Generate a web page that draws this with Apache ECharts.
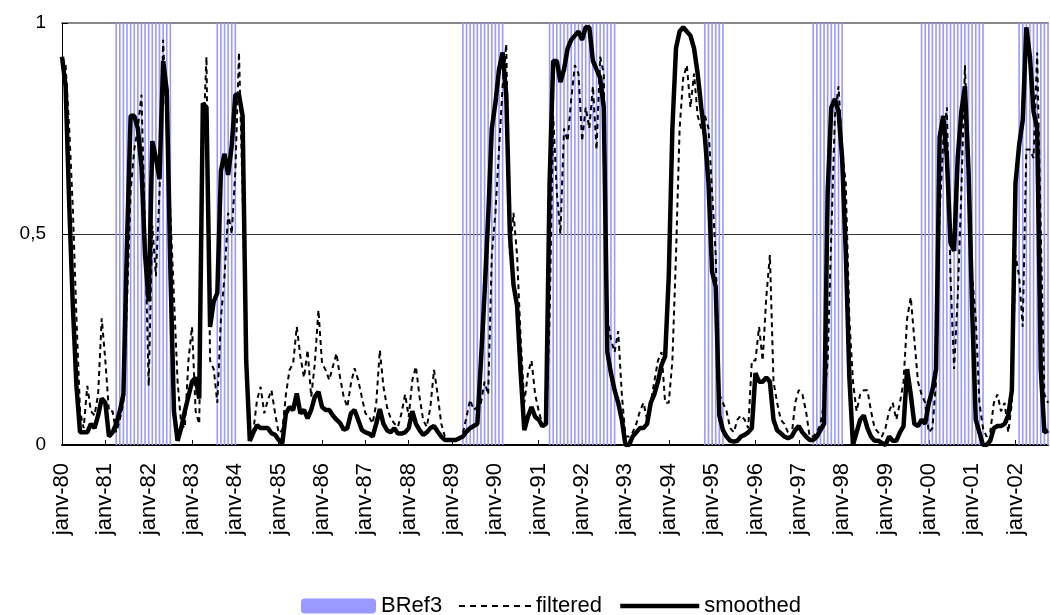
<!DOCTYPE html>
<html>
<head>
<meta charset="utf-8">
<script src="https://cdn.jsdelivr.net/npm/echarts@6/dist/echarts.min.js"></script>
<style>
html,body{margin:0;padding:0;background:#fff;}
#chart{width:1050px;height:615px;}
</style>
</head>
<body>
<div id="chart"></div>
<script>
// Month names (French) and years used to build the monthly category axis (jan 1980 .. oct 2002)
const monthNames = ['janv','févr','mars','avr','mai','juin','juil','août','sept','oct','nov','déc'];
const yearLabels = ['80','81','82','83','84','85','86','87','88','89','90','91','92','93','94','95','96','97','98','99','00','01','02'];
const monthsInLastYear = 10;

// BRef3 reference dating (1 = recession month), one row per year
const bref3 = [
  0,0,0,0,0,0,0,0,0,0,0,0,
  0,0,0,1,1,1,1,1,1,1,1,1,
  1,1,1,1,1,1,1,0,0,0,0,0,
  0,0,0,0,0,0,0,1,1,1,1,1,
  1,0,0,0,0,0,0,0,0,0,0,0,
  0,0,0,0,0,0,0,0,0,0,0,0,
  0,0,0,0,0,0,0,0,0,0,0,0,
  0,0,0,0,0,0,0,0,0,0,0,0,
  0,0,0,0,0,0,0,0,0,0,0,0,
  0,0,0,1,1,1,1,1,1,1,1,1,
  1,1,1,0,0,0,0,0,0,0,0,0,
  0,0,0,1,1,1,1,1,1,1,1,1,
  1,1,1,1,1,1,1,1,1,1,0,0,
  0,0,0,0,0,0,0,0,0,0,0,0,
  0,0,0,0,0,0,0,0,0,0,1,1,
  1,1,1,1,0,0,0,0,0,0,0,0,
  0,0,0,0,0,0,0,0,0,0,0,0,
  0,0,0,0,1,1,1,1,1,1,1,1,
  1,0,0,0,0,0,0,0,0,0,0,0,
  0,0,0,0,0,0,0,0,0,0,1,1,
  1,1,1,1,1,1,1,1,1,1,1,1,
  1,1,1,1,0,0,0,0,0,0,0,0,
  0,1,1,1,1,1,1,1,1,1
];

// "filtered" probability, one row per year
const filtered = [
  0.92,0.90,0.75,0.56,0.30,0.08,0.04,0.14,0.08,0.07,0.12,0.30,
  0.20,0.08,0.08,0.03,0.06,0.10,0.34,0.60,0.70,0.75,0.83,0.50,
  0.14,0.52,0.40,0.60,0.96,0.75,0.55,0.35,0.15,0.05,0.04,0.20,
  0.28,0.08,0.05,0.70,0.92,0.20,0.18,0.10,0.30,0.40,0.55,0.50,
  0.65,0.93,0.60,0.20,0.02,0.035,0.107,0.138,0.075,0.107,0.13,0.075,
  0.028,0.035,0.12,0.178,0.193,0.28,0.21,0.16,0.225,0.114,0.193,0.32,
  0.193,0.178,0.154,0.186,0.217,0.16,0.114,0.09,0.146,0.182,0.154,0.114,
  0.075,0.067,0.051,0.098,0.225,0.138,0.09,0.063,0.051,0.043,0.075,0.12,
  0.067,0.154,0.186,0.114,0.059,0.043,0.09,0.178,0.12,0.051,0.02,0.016,
  0.012,0.012,0.016,0.028,0.067,0.107,0.083,0.09,0.10,0.15,0.12,0.45,
  0.55,0.70,0.85,0.95,0.45,0.55,0.45,0.25,0.10,0.17,0.20,0.12,
  0.08,0.05,0.04,0.30,0.78,0.60,0.50,0.75,0.72,0.82,0.90,0.88,
  0.72,0.80,0.75,0.85,0.70,0.92,0.88,0.30,0.25,0.22,0.27,0.12,
  0.02,0.02,0.03,0.05,0.08,0.10,0.06,0.10,0.15,0.20,0.22,0.10,
  0.10,0.20,0.45,0.75,0.87,0.90,0.80,0.88,0.78,0.75,0.78,0.75,
  0.60,0.45,0.12,0.10,0.08,0.04,0.03,0.06,0.07,0.06,0.04,0.20,
  0.20,0.28,0.20,0.35,0.45,0.15,0.10,0.06,0.05,0.03,0.02,0.10,
  0.13,0.12,0.08,0.02,0.02,0.03,0.05,0.10,0.20,0.50,0.78,0.85,
  0.70,0.62,0.30,0.15,0.08,0.12,0.13,0.13,0.08,0.04,0.03,0.02,
  0.04,0.08,0.10,0.06,0.10,0.15,0.30,0.35,0.25,0.15,0.12,0.10,
  0.03,0.04,0.15,0.55,0.72,0.80,0.40,0.18,0.35,0.60,0.90,0.65,
  0.40,0.30,0.10,0.04,0.02,0.03,0.10,0.12,0.08,0.10,0.03,0.10,
  0.45,0.40,0.28,0.70,0.70,0.68,0.93,0.50,0.12,0.10
];

// "smoothed" probability, one row per year
const smoothed = [
  0.92,0.85,0.57,0.33,0.14,0.03,0.03,0.03,0.05,0.04,0.07,0.11,
  0.10,0.02,0.03,0.05,0.08,0.12,0.48,0.78,0.78,0.75,0.66,0.45,
  0.34,0.72,0.68,0.63,0.91,0.84,0.42,0.08,0.01,0.04,0.08,0.115,
  0.15,0.16,0.11,0.81,0.80,0.28,0.34,0.36,0.65,0.69,0.64,0.71,
  0.83,0.83,0.78,0.20,0.01,0.03,0.047,0.04,0.04,0.04,0.028,0.024,
  0.012,0.004,0.075,0.09,0.083,0.122,0.075,0.083,0.063,0.083,0.114,0.126,
  0.09,0.083,0.083,0.07,0.06,0.052,0.036,0.04,0.075,0.083,0.06,0.036,
  0.03,0.027,0.02,0.05,0.085,0.05,0.035,0.03,0.04,0.027,0.027,0.03,
  0.04,0.08,0.05,0.035,0.024,0.03,0.04,0.045,0.032,0.02,0.012,0.012,
  0.012,0.012,0.016,0.02,0.032,0.04,0.045,0.05,0.20,0.36,0.54,0.75,
  0.81,0.89,0.93,0.83,0.50,0.38,0.33,0.17,0.035,0.067,0.09,0.067,
  0.06,0.045,0.05,0.62,0.91,0.91,0.86,0.89,0.94,0.96,0.97,0.98,
  0.96,0.99,0.99,0.91,0.89,0.87,0.80,0.22,0.17,0.13,0.10,0.06,
  0.0,0.0,0.02,0.03,0.04,0.04,0.05,0.10,0.12,0.15,0.19,0.21,
  0.40,0.75,0.94,0.98,0.99,0.98,0.97,0.94,0.88,0.80,0.73,0.62,
  0.41,0.375,0.07,0.035,0.02,0.01,0.008,0.01,0.02,0.024,0.03,0.04,
  0.17,0.15,0.15,0.16,0.15,0.06,0.035,0.028,0.02,0.016,0.02,0.035,
  0.045,0.03,0.02,0.012,0.012,0.02,0.035,0.05,0.60,0.80,0.82,0.79,
  0.68,0.46,0.16,0.0,0.03,0.06,0.07,0.04,0.02,0.01,0.01,0.005,
  0.0,0.02,0.01,0.01,0.03,0.045,0.18,0.12,0.05,0.045,0.06,0.05,
  0.10,0.13,0.18,0.73,0.78,0.68,0.48,0.46,0.68,0.79,0.85,0.65,
  0.32,0.06,0.03,0.0,0.0,0.01,0.04,0.045,0.045,0.05,0.07,0.13,
  0.62,0.71,0.77,0.99,0.92,0.79,0.75,0.18,0.03,0.035
];

const categories = [];
yearLabels.forEach((y, i) => {
  const n = (i === yearLabels.length - 1) ? monthsInLastYear : 12;
  for (let k = 0; k < n; k++) categories.push(monthNames[k] + '-' + y);
});

const FONT = '"Liberation Sans", Arial, sans-serif';
const chart = echarts.init(document.getElementById('chart'), null, {renderer: 'canvas'});
const yearTick = (idx) => idx % 12 === 0;
const legendText = {fontFamily: FONT, fontSize: 22, color: '#000'};

chart.setOption({
  animation: false,
  backgroundColor: '#ffffff',
  textStyle: {fontFamily: FONT},
  grid: {left: 62, right: 2, top: 23, bottom: 170, containLabel: false},
  legend: [
    {data: ['BRef3'], left: 301, top: 595, itemWidth: 75, itemHeight: 15, padding: 0,
     textStyle: legendText},
    {data: ['filtered'], left: 458, top: 595, itemWidth: 72, itemHeight: 15, padding: 0,
     itemStyle: {opacity: 0}, lineStyle: {width: 2, type: [6, 5], color: '#000'},
     textStyle: legendText},
    {data: ['smoothed'], left: 618, top: 595, itemWidth: 79, itemHeight: 15, padding: 0,
     itemStyle: {opacity: 0}, lineStyle: {width: 4.5, color: '#000'},
     textStyle: legendText}
  ],
  xAxis: [{
    type: 'category',
    data: categories,
    boundaryGap: false,
    axisLine: {lineStyle: {color: '#000', width: 2}},
    axisTick: {inside: true, length: 5, interval: yearTick, lineStyle: {color: '#000', width: 1}},
    axisLabel: {
      interval: yearTick, rotate: 90, margin: 18,
      fontFamily: FONT, fontSize: 22, color: '#000'
    },
    splitLine: {show: false}
  }, {
    type: 'category',
    data: categories,
    boundaryGap: false,
    position: 'top',
    axisLine: {show: true, lineStyle: {color: '#888', width: 2}},
    axisTick: {show: false},
    axisLabel: {show: false},
    splitLine: {show: false}
  }],
  yAxis: {
    type: 'value', min: 0, max: 1, interval: 0.5,
    axisLine: {show: true, lineStyle: {color: '#000', width: 1}},
    axisTick: {show: true, inside: true, length: 6, lineStyle: {color: '#000'}},
    axisLabel: {
      margin: 16, fontFamily: FONT, fontSize: 19, color: '#000',
      formatter: (v) => String(v).replace('.', ',')
    },
    splitLine: {show: true, lineStyle: {color: '#333', width: 1}}
  },
  series: [
    {
      name: 'BRef3', type: 'bar', data: bref3,
      barWidth: 1.6, itemStyle: {color: '#9999ff'}, z: 1,
      emphasis: {disabled: true}
    },
    {
      name: 'filtered', type: 'line', data: filtered,
      symbol: 'none', smooth: false, z: 3,
      lineStyle: {color: '#000', width: 2, type: [5, 4]},
      itemStyle: {color: '#000'}
    },
    {
      name: 'smoothed', type: 'line', data: smoothed,
      symbol: 'none', smooth: false, z: 4,
      lineStyle: {color: '#000', width: 4.5},
      itemStyle: {color: '#000'}
    }
  ]
});
</script>
</body>
</html>
